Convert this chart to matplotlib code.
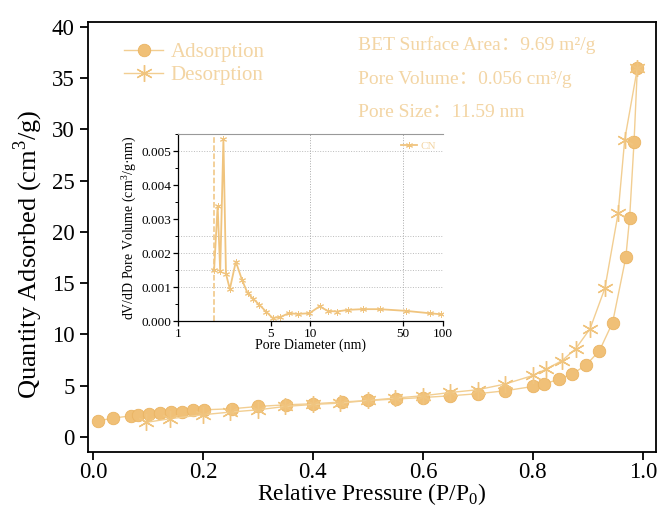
import matplotlib
matplotlib.use("Agg")
import matplotlib.pyplot as plt
from matplotlib.ticker import FixedLocator, MultipleLocator, NullFormatter

plt.rcParams['font.family'] = ['Liberation Serif', 'Noto Sans CJK SC', 'DejaVu Sans']
plt.rcParams['mathtext.fontset'] = 'custom'
plt.rcParams['mathtext.rm'] = 'Liberation Serif'

# ---- data: isotherm ----
ads_p = [0.01, 0.037, 0.07, 0.082, 0.102, 0.122, 0.142, 0.162, 0.181, 0.201, 0.252,
         0.301, 0.351, 0.40, 0.452, 0.501, 0.551, 0.60, 0.650, 0.70, 0.75, 0.80,
         0.82, 0.848, 0.872, 0.896, 0.921, 0.945, 0.969, 0.976, 0.984, 0.990]
ads_q = [1.56, 1.82, 2.05, 2.08, 2.21, 2.31, 2.37, 2.44, 2.57, 2.63, 2.73,
         2.96, 3.12, 3.22, 3.39, 3.54, 3.68, 3.83, 4.0, 4.2, 4.49, 4.91,
         5.14, 5.63, 6.15, 6.96, 8.39, 11.15, 17.5, 21.4, 28.8, 35.97]
des_p = [0.990, 0.967, 0.955, 0.931, 0.904, 0.878, 0.853, 0.824, 0.80, 0.75, 0.70,
         0.65, 0.60, 0.55, 0.50, 0.45, 0.40, 0.35, 0.30, 0.25, 0.20, 0.14, 0.096]
des_q = [35.97, 29.0, 21.8, 14.5, 10.54, 8.6, 7.43, 6.6, 5.98, 5.15, 4.59,
         4.32, 4.0, 3.78, 3.54, 3.29, 3.15, 2.96, 2.63, 2.41, 2.15, 1.76, 1.40]

# ---- data: pore size distribution ----
pore_d = [1.87, 1.99, 2.08, 2.20, 2.30, 2.46, 2.73, 3.04, 3.35, 3.70, 4.11, 4.61,
          5.18, 5.93, 6.86, 8.01, 9.82, 11.7, 13.5, 15.8, 19.2, 24.9, 33.3, 52.4,
          79.4, 96.0]
pore_v = [0.00149, 0.00339, 0.00146, 0.00535, 0.00139, 0.00094, 0.00175, 0.00121,
          0.00082, 0.00065, 0.00048, 0.00028, 0.00009, 0.00012, 0.00023, 0.00021,
          0.00023, 0.00043, 0.00030, 0.00028, 0.00033, 0.00035, 0.00035, 0.00030,
          0.00023, 0.00020]

xticks_main = [0.0, 0.2, 0.4, 0.6, 0.8, 1.0]
yticks_main = [0, 5, 10, 15, 20, 25, 30, 35, 40]
xticks_inset = [1, 5, 10, 50, 100]
yticks_inset = [0.000, 0.001, 0.002, 0.003, 0.004, 0.005]

marker_col = '#F0C077'
line_col = '#F2CE92'
text_col = '#F3D5A4'

fig = plt.figure(figsize=(6.62, 5.08), dpi=100)
ax = fig.add_axes([0.133, 0.110, 0.858, 0.847])

ax.plot(ads_p, ads_q, '-', color=line_col, lw=1.0, marker='o', markersize=9,
        markerfacecolor=marker_col, markeredgecolor='#EAB462', markeredgewidth=0.6,
        label='Adsorption')
ax.plot(des_p, des_q, '-', color=line_col, lw=1.0, marker=(6, 2, 0), markersize=12,
        markeredgecolor='#F0C47E', markeredgewidth=1.0, label='Desorption')

ax.set_xlim(-0.009, 1.024)
ax.set_ylim(-1.5, 40.5)
ax.set_xticks(xticks_main)
ax.set_xticklabels([f'{v:.1f}' for v in xticks_main])
ax.set_yticks(yticks_main)
ax.tick_params(axis='both', which='major', direction='out', length=6, width=1.3,
               labelsize=16.5, top=False, right=False)
ax.tick_params(axis='x', pad=1)
for s in ax.spines.values():
    s.set_linewidth(1.3)
ax.set_xlabel('Relative Pressure (P/P$_0$)', fontsize=17)
ax.xaxis.set_label_coords(0.5, -0.068)
ax.set_ylabel('Quantity Adsorbed (cm$^3$/g)', fontsize=19)
ax.yaxis.set_label_coords(-0.075, 0.46)

leg = ax.legend(loc='upper left', bbox_to_anchor=(0.03, 0.995), frameon=False,
                fontsize=15, handlelength=1.9, handletextpad=0.35, labelspacing=0.15,
                labelcolor=text_col)

fs_ann = 14
ax.text(0.475, 0.945, 'BET Surface Area：9.69 m²/g', transform=ax.transAxes,
        fontsize=fs_ann, color=text_col, va='center', ha='left')
ax.text(0.475, 0.867, 'Pore Volume：0.056 cm³/g', transform=ax.transAxes,
        fontsize=fs_ann, color=text_col, va='center', ha='left')
ax.text(0.475, 0.790, 'Pore Size：11.59 nm', transform=ax.transAxes,
        fontsize=fs_ann, color=text_col, va='center', ha='left')

# ---- inset ----
ins = fig.add_axes([0.269, 0.368, 0.400, 0.368])
ins.plot(pore_d, pore_v, '-', color='#F0C47E', lw=1.3, marker=(6, 2, 0),
         markersize=5, markeredgecolor='#F0C47E', markeredgewidth=0.7, label='CN')
ins.set_xscale('log')
ins.set_xlim(1, 100)
ins.set_ylim(0, 0.0055)
ins.xaxis.set_major_locator(FixedLocator(xticks_inset))
ins.xaxis.set_minor_locator(FixedLocator([]))
ins.set_xticklabels([str(v) for v in xticks_inset])
ins.xaxis.set_minor_formatter(NullFormatter())
ins.set_yticks(yticks_inset)
ins.set_yticklabels([f'{v:.3f}' for v in yticks_inset])
ins.yaxis.set_minor_locator(MultipleLocator(0.0005))
ins.tick_params(axis='both', which='major', direction='out', length=3.5, width=0.9,
                labelsize=9.5, pad=1.5)
ins.tick_params(axis='y', which='minor', direction='out', length=2, width=0.7)
for v in [0.001, 0.0015, 0.002, 0.0025, 0.005]:
    ins.axhline(v, color='#BBBBBB', lw=0.7, ls=':', zorder=0)
for v in [10, 50]:
    ins.axvline(v, color='#AAAAAA', lw=0.7, ls=':', zorder=0)
ins.axvline(1.87, color='#F0C47E', lw=1.1, ls='--', zorder=1)
ins.spines['top'].set_color('#999999')
ins.spines['right'].set_visible(False)
ins.spines['left'].set_linewidth(0.9)
ins.spines['bottom'].set_linewidth(0.9)
ins.set_xlabel('Pore Diameter (nm)', fontsize=10, labelpad=-1)
ins.set_ylabel('dV/dD Pore Volume (cm$^3$/g·nm)', fontsize=10, labelpad=2)
ins.legend(loc='upper right', frameon=False, fontsize=8, handlelength=1.5,
           handletextpad=0.3, borderaxespad=0.2, labelcolor=text_col)

fig.savefig('out.png', dpi=100)
